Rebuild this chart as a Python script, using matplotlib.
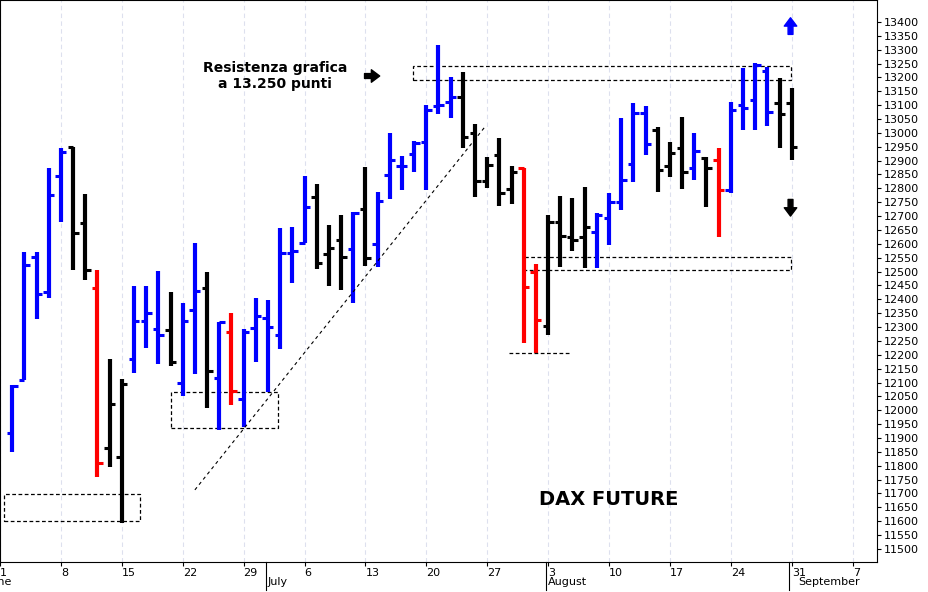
import numpy as np
import pandas as pd
import matplotlib
matplotlib.use("Agg")
import matplotlib.pyplot as plt

# daily OHLC, DAX future, Jun 2 - Aug 31 2020
dates = pd.bdate_range("2020-06-02", "2020-08-31")
opens = [11918, 12109, 12553, 12426, 12845, 12949, 12675, 12441, 11864, 11832,
         12185, 12322, 12293, 12289, 12098, 12361, 12441, 12116, 12282, 12041,
         12297, 12333, 12272, 12567, 12603, 12769, 12563, 12614, 12581, 12726,
         12599, 12848, 12881, 12924, 12967, 13097, 13111, 13129, 13000, 12826,
         12920, 12798, 12873, 12498, 12304, 12679, 12625, 12625, 12643, 12693,
         12751, 12888, 13072, 13010, 12881, 12945, 12873, 12909, 12902, 12794,
         13100, 13118, 13223, 13108, 13108]
highs = [12091, 12571, 12571, 12873, 12945, 12949, 12780, 12506, 12185, 12113,
         12448, 12448, 12502, 12426, 12387, 12603, 12498, 12318, 12351, 12293,
         12405, 12397, 12657, 12661, 12845, 12816, 12668, 12704, 12715, 12877,
         12787, 13000, 12917, 12971, 13100, 13317, 13201, 13219, 13032, 12913,
         12982, 12881, 12873, 12527, 12704, 12772, 12765, 12805, 12711, 12783,
         13054, 13108, 13097, 13021, 12967, 13057, 13000, 12913, 12945, 13111,
         13234, 13252, 13237, 13198, 13162]
lows = [11850, 12109, 12329, 12405, 12679, 12506, 12470, 11759, 11795, 11594,
        12134, 12224, 12167, 12160, 12051, 12131, 12008, 11929, 12019, 11940,
        12174, 12066, 12221, 12459, 12603, 12509, 12448, 12434, 12387, 12520,
        12516, 12762, 12794, 12859, 12794, 13068, 13054, 12945, 12769, 12801,
        12736, 12744, 12242, 12206, 12272, 12516, 12574, 12513, 12513, 12596,
        12722, 12823, 12920, 12787, 12841, 12798, 12830, 12733, 12625, 12783,
        13010, 13010, 13025, 12945, 12902]
closes = [12087, 12524, 12419, 12776, 12931, 12639, 12506, 11810, 12023, 12095,
          12322, 12351, 12271, 12174, 12322, 12430, 12142, 12318, 12069, 12282,
          12340, 12300, 12567, 12574, 12733, 12531, 12585, 12553, 12711, 12549,
          12754, 12902, 12881, 12963, 13082, 13100, 13129, 12985, 12826, 12884,
          12783, 12859, 12444, 12325, 12679, 12628, 12614, 12661, 12704, 12751,
          12830, 13072, 12960, 12866, 12927, 12859, 12935, 12873, 12794, 13082,
          13090, 13245, 13075, 13068, 12949]
bar_colors = list("bbbbbkkrkkbbbkbbkbrbbbbbbkkkbkbbbbbbbkkkkkrrkkkkbbbbbkkkbkrbbbbkk")
cmap = {"b": "#0000ff", "k": "black", "r": "#ff0000"}

# x position = business days since Mon 1 June
x = np.array([np.busday_count(np.datetime64("2020-06-01"), np.datetime64(d.date())) for d in dates])

fig = plt.figure(figsize=(9.29, 5.92), dpi=100)
ax = fig.add_axes([0, 30 / 592, 877 / 929, 562 / 592])

for xi, o, h, l, c, col in zip(x, opens, highs, lows, closes, bar_colors):
    cc = cmap[col]
    ax.vlines(xi, l, h, color=cc, lw=3)
    ax.hlines(o, xi - 0.45, xi, color=cc, lw=2.2)
    ax.hlines(c, xi, xi + 0.45, color=cc, lw=2.2)

# weekly grid (Mondays)
mondays = np.arange(0, 75, 5)
for m in mondays:
    ax.axvline(m, color="#dde0ee", lw=0.8, ls=(0, (4, 3)), zorder=0)

# annotations
dash = dict(fill=False, ls=(0, (3, 2)), lw=0.9, ec="black")
ax.add_patch(plt.Rectangle((33.9, 13191), 31.0, 50, **dash))
ax.add_patch(plt.Rectangle((42.9, 12506), 22.0, 47, **dash))
ax.add_patch(plt.Rectangle((14.0, 11937), 8.8, 129, **dash))
ax.add_patch(plt.Rectangle((0.3, 11601), 11.2, 97, **dash))
ax.plot([41.8, 46.8], [12206, 12206], color="black", lw=0.9, ls=(0, (3, 2)))
ax.plot([16.0, 39.8], [11713, 13021], color="black", lw=0.8, ls=(0, (3, 3)))

ax.text(22.6, 13205, "Resistenza grafica\na 13.250 punti", ha="center", va="center",
        fontsize=10, fontweight="bold", linespacing=1.1)
ax.annotate("", xy=(31.4, 13205), xytext=(29.7, 13205),
            arrowprops=dict(arrowstyle="simple,head_width=0.9,head_length=0.6,tail_width=0.35",
                            color="black"))
ax.annotate("", xy=(64.9, 13425), xytext=(64.9, 13345),
            arrowprops=dict(arrowstyle="simple,head_width=0.9,head_length=0.6,tail_width=0.35",
                            color="#0000ff"))
ax.annotate("", xy=(64.9, 12690), xytext=(64.9, 12770),
            arrowprops=dict(arrowstyle="simple,head_width=0.9,head_length=0.6,tail_width=0.35",
                            color="black"))
ax.text(50.0, 11680, "DAX FUTURE", ha="center", va="center", fontsize=14, fontweight="bold")

ax.set_xlim(0.49, 72.0)
ax.set_ylim(11453, 13479)

ax.yaxis.tick_right()
yt = np.arange(11500, 13401, 50)
ax.set_yticks(yt)
ax.set_yticklabels([str(v) for v in yt], fontsize=8)
ax.tick_params(axis="y", length=3, pad=2)

day_labels = ["1", "8", "15", "22", "29", "6", "13", "20", "27", "3", "10", "17", "24", "31", "7"]
ax.set_xticks(mondays)
ax.set_xticklabels(day_labels, fontsize=8, ha="left")
ax.tick_params(axis="x", length=3, pad=1)
months = [("June", -1.0), ("July", 22.0), ("August", 45.0), ("September", 65.5)]
for name, pos in months:
    ax.text(pos, -0.026, name, transform=ax.get_xaxis_transform(), fontsize=8, ha="left", va="top")
for pos in [22.0, 45.0, 65.0]:
    ax.plot([pos - 0.2, pos - 0.2], [0, -0.05], transform=ax.get_xaxis_transform(),
            color="black", lw=0.8, clip_on=False)

fig.savefig("out.png", dpi=100)
